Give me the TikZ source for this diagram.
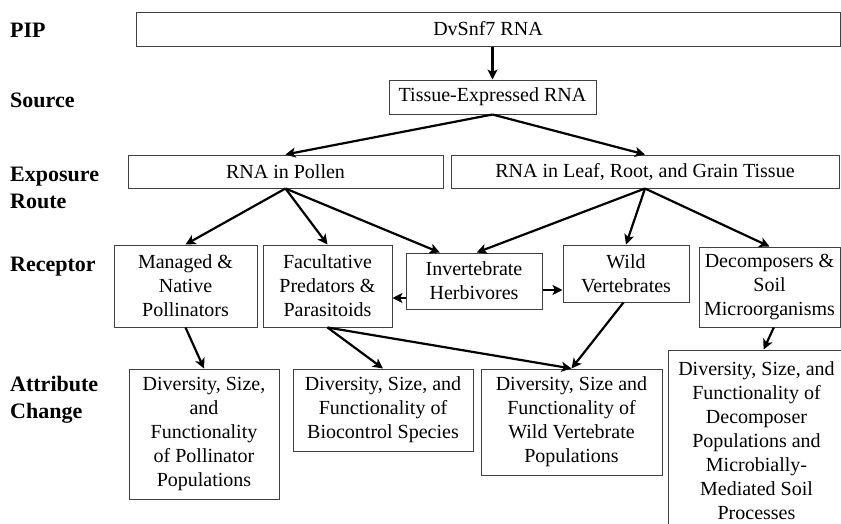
\documentclass[tikz,border=0pt]{standalone}
\usepackage{fontspec}
\setmainfont{Liberation Serif}
\usepackage{tikz}
\usetikzlibrary{calc}
\usetikzlibrary{arrows.meta}
\tikzset{
	box/.style={draw=black!75, line width=1pt, align=center, inner sep=1pt,
		font=\fontsize{20pt}{24pt}\selectfont},
	arr/.style={-{Stealth[length=10pt,width=10pt,inset=2.5pt]}, line width=2.2pt},
	rowlabel/.style={anchor=west, align=left, inner sep=0pt,
		font=\fontsize{22pt}{27pt}\selectfont\bfseries}
}
\newcommand{\rowLabel}[3]{
	\node[rowlabel] (#1) at (10,#2) {#3};
}

\begin{document}
\begin{tikzpicture}[x=1pt,y=-1pt]
%%%%%%%%%%%%%%%%%%
\useasboundingbox (0,0) rectangle (841,523);

%Row labels
\rowLabel{lPip}{30}{PIP}
\rowLabel{lSrc}{100}{Source}
\rowLabel{lExp}{188}{Exposure\\Route}
\rowLabel{lRec}{267}{Receptor}
\rowLabel{lAtt}{400}{Attribute\\Change}

%Top boxes
\node[box, minimum width=704pt, minimum height=34pt] (pip) at (488,29) {DvSnf7 RNA};
\node[box, minimum width=207pt, minimum height=34pt] (src) at (492.5,97) {Tissue-Expressed RNA};
%Exposure route
\node[box, minimum width=315pt, minimum height=33pt] (pollen) at (285.5,171.5) {RNA in Pollen};
\node[box, minimum width=388pt, minimum height=33pt] (leaf) at (645,171.5) {RNA in Leaf, Root, and Grain Tissue};
%Receptors
\node[box, minimum width=143pt, minimum height=82pt] (managed) at (185.5,286) {Managed \&\\Native\\Pollinators};
\node[box, minimum width=129pt, minimum height=82pt] (facult) at (327.5,286) {Facultative\\Predators \&\\Parasitoids};
\node[box, minimum width=136pt, minimum height=56pt] (invert) at (474,281) {Invertebrate\\Herbivores};
\node[box, minimum width=126pt, minimum height=57pt] (wild) at (626,273.5) {Wild\\Vertebrates};
\node[box, minimum width=141pt, minimum height=80pt] (decomp) at (769.5,287) {Decomposers \&\\Soil\\Microorganisms};
%Attribute change
\node[box, minimum width=150pt, minimum height=130pt] (pollAttr) at (204,434) {Diversity, Size,\\and\\Functionality\\of Pollinator\\Populations};
\node[box, minimum width=180pt, minimum height=82pt] (bioAttr) at (383,410) {Diversity, Size, and\\Functionality of\\Biocontrol Species};
\node[box, minimum width=181pt, minimum height=106pt] (wildAttr) at (571.5,422) {Diversity, Size and\\Functionality of\\Wild Vertebrate\\Populations};
\node[box, minimum width=177pt, minimum height=182pt] (decAttr) at (756.5,441) {Diversity, Size, and\\Functionality of\\Decomposer\\Populations and\\Microbially-\\Mediated Soil\\Processes};

%Arrows
\draw[arr] (pip.south -| src.north) -- (src.north);
\draw[arr] (src.south) -- (pollen.north);
\draw[arr] (src.south) -- (leaf.north);
\draw[arr] (pollen.south) -- (managed.north);
\draw[arr] (pollen.south) -- (facult.north);
\draw[arr] (pollen.south) -- ($(invert.north west)!0.25!(invert.north east)$);
\draw[arr] (leaf.south) -- ($(invert.north west)!0.52!(invert.north east)$);
\draw[arr] (leaf.south) -- (wild.north);
\draw[arr] (leaf.south) -- (decomp.north);
% side arrows from herbivores
\coordinate (invL) at ($(invert.west)+(0,17)$);
\coordinate (invR) at ($(invert.east)+(0,9)$);
\draw[arr] (invL) -- (invL -| facult.east);
\draw[arr] (invR) -- (invR -| wild.west);
% down to attributes
\draw[arr] (managed.south) -- (pollAttr.north);
\draw[arr] (facult.south) -- (bioAttr.north);
\draw[arr] (facult.south) -- (wildAttr.north);
\draw[arr] ($(wild.south west)!0.48!(wild.south east)$) -- (wildAttr.north);
\draw[arr] ($(decomp.south west)!0.53!(decomp.south east)$) -- ($(decAttr.north west)!0.54!(decAttr.north east)$);
\end{tikzpicture}
\end{document}
